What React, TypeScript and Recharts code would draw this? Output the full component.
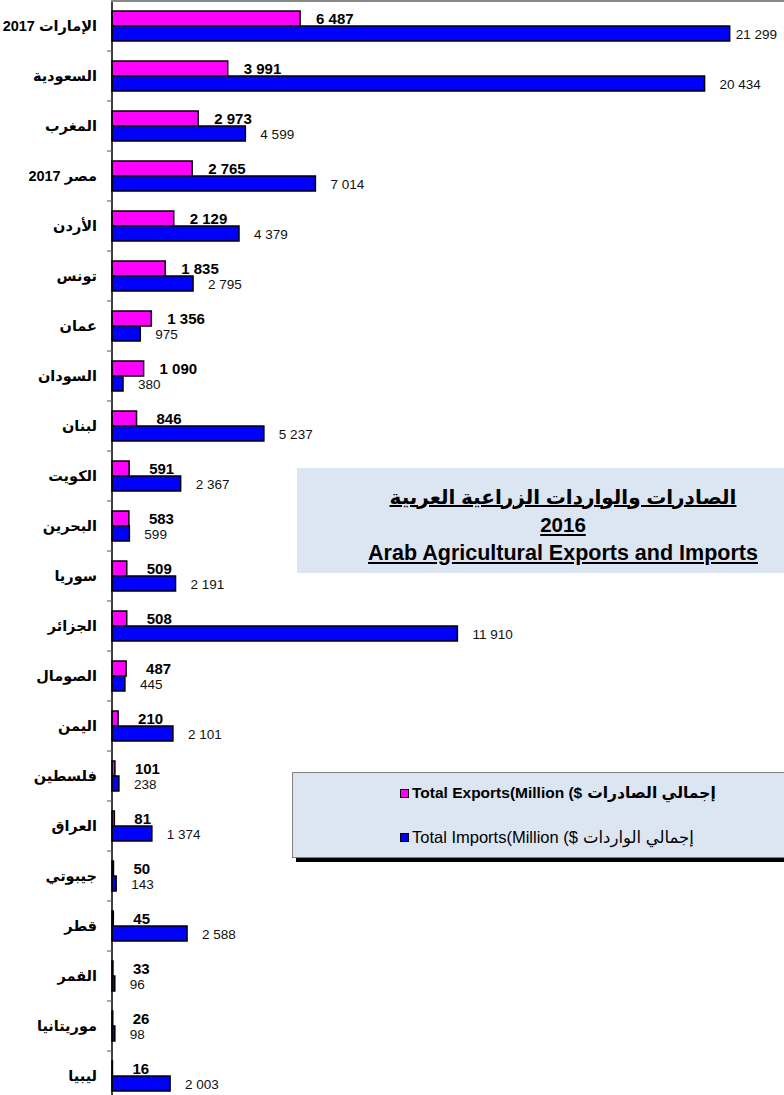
import React from 'react'
import { BarChart, Bar, XAxis, YAxis, LabelList } from 'recharts'

const countries = [
  'الإمارات 2017', 'السعودية', 'المغرب', 'مصر 2017', 'الأردن', 'تونس', 'عمان', 'السودان',
  'لبنان', 'الكويت', 'البحرين', 'سوريا', 'الجزائر', 'الصومال', 'اليمن', 'فلسطين',
  'العراق', 'جيبوتي', 'قطر', 'القمر', 'موريتانيا', 'ليبيا'
]
const exportValues = [
  6487, 3991, 2973, 2765, 2129, 1835, 1356, 1090, 846, 591, 583,
  509, 508, 487, 210, 101, 81, 50, 45, 33, 26, 16
]
const importValues = [
  21299, 20434, 4599, 7014, 4379, 2795, 975, 380, 5237, 2367, 599,
  2191, 11910, 445, 2101, 238, 1374, 143, 2588, 96, 98, 2003
]
const xDomain: [number, number] = [0, 23000]

const titleAr = 'الصادرات والواردات الزراعية العربية'
const titleYear = '2016'
const titleEn = 'Arab Agricultural Exports and Imports'
const legendExp = { en: 'Total Exports(Million ($', ar: 'إجمالي الصادرات' }
const legendImp = { en: 'Total Imports(Million ($', ar: 'إجمالي الواردات' }

const EXP_COLOR = '#FF00FF'
const IMP_COLOR = '#0000FF'
const FONT = '"Liberation Sans", Arial, "DejaVu Sans", sans-serif'
const W = 784
const H = 1095
const AXIS_W = 112
const CHART_H = 1101
const BAND = (CHART_H - 1) / countries.length

const data = countries.map((name, i) => ({ name, exp: exportValues[i], imp: importValues[i] }))

const fmt = (n: number) => String(n).replace(/\B(?=(\d{3})+(?!\d))/g, ' ')
const textWidth = (s: string, size: number) =>
  s.split('').reduce((w, c) => w + (c === ' ' ? 0.278 : 0.556), 0) * size

function CountryTick(props: any) {
  const { y, payload, index } = props
  return (
    <g>
      {index < countries.length - 1 && (
        <line x1={AXIS_W - 5} x2={AXIS_W} y1={y + BAND / 2} y2={y + BAND / 2} stroke="#555" strokeWidth={1} />
      )}
      <text x={AXIS_W - 15} y={y} textAnchor="end" dominantBaseline="central"
        fontFamily={FONT} fontWeight="bold" fontSize={14.5} fill="#000">
        {payload.value}
      </text>
    </g>
  )
}

function ExportLabel(props: any) {
  const { x, y, width, height, value } = props
  const label = fmt(value)
  const off = value >= 1000 ? 16 : 20
  return (
    <text x={x + width + off} y={y + height / 2} dominantBaseline="central"
      fontFamily={FONT} fontWeight="bold" fontSize={15} fill="#000">
      {label}
    </text>
  )
}

function ImportLabel(props: any) {
  const { x, y, width, height, value } = props
  const label = fmt(value)
  const size = 13.5
  const lx = Math.min(x + width + 15, W - 7 - textWidth(label, size))
  return (
    <text x={lx} y={y + height / 2 + 1} dominantBaseline="central"
      fontFamily={FONT} fontSize={size} fill="#111">
      {label}
    </text>
  )
}

function LegendRow({ color, en, ar, bold }: { color: string; en: string; ar: string; bold: boolean }) {
  return (
    <div style={{ display: 'flex', alignItems: 'center', height: 22, fontWeight: bold ? 'bold' : 'normal', fontSize: bold ? 15.5 : 16.5 }}>
      <span style={{ width: 7, height: 7, background: color, border: '1.5px solid #000', marginRight: 3 }} />
      <span>{en}</span>
      <span style={{ width: 5 }} />
      <bdi dir="rtl">{ar}</bdi>
    </div>
  )
}

export default function App() {
  return (
    <div style={{ position: 'absolute', left: 0, top: 0, width: W, height: H, overflow: 'hidden', background: '#fff', fontFamily: FONT }}>
      <BarChart width={W} height={CHART_H} data={data} layout="vertical"
        margin={{ top: 1, right: 5, bottom: 0, left: 0 }} barGap={0} barSize={15}>
        <XAxis type="number" domain={xDomain} hide />
        <YAxis type="category" dataKey="name" width={AXIS_W} interval={0}
          axisLine={{ stroke: '#000', strokeWidth: 1.5 }} tickLine={false} tick={<CountryTick />} />
        <Bar dataKey="exp" fill={EXP_COLOR} stroke="#000" strokeWidth={1.5} isAnimationActive={false}>
          <LabelList dataKey="exp" content={<ExportLabel />} />
        </Bar>
        <Bar dataKey="imp" fill={IMP_COLOR} stroke="#000" strokeWidth={1.5} isAnimationActive={false}>
          <LabelList dataKey="imp" content={<ImportLabel />} />
        </Bar>
      </BarChart>

      <div style={{ position: 'absolute', left: AXIS_W - 1, top: 0, width: W, height: 2, background: '#888' }} />

      <div style={{
        position: 'absolute', left: 297, top: 468, width: 532, height: 105, background: '#DCE6F2',
        display: 'flex', flexDirection: 'column', alignItems: 'center', justifyContent: 'center',
        fontWeight: 'bold', color: '#000', lineHeight: '28px', textDecoration: 'underline'
      }}>
        <div dir="rtl" style={{ marginTop: 8, fontSize: 20 }}>{titleAr}</div>
        <div style={{ fontSize: 20.5 }}>{titleYear}</div>
        <div style={{ fontSize: 21.5 }}>{titleEn}</div>
      </div>

      <div style={{ position: 'absolute', left: 296, top: 776, width: 520, height: 86, background: '#000' }} />
      <div style={{
        position: 'absolute', left: 292, top: 772, width: 520, height: 84, background: '#DCE6F2',
        border: '1px solid #808080', paddingLeft: 107, boxSizing: 'content-box',
        display: 'flex', flexDirection: 'column', justifyContent: 'center', gap: 22, color: '#000'
      }}>
        <LegendRow color={EXP_COLOR} en={legendExp.en} ar={legendExp.ar} bold />
        <LegendRow color={IMP_COLOR} en={legendImp.en} ar={legendImp.ar} bold={false} />
      </div>
    </div>
  )
}
